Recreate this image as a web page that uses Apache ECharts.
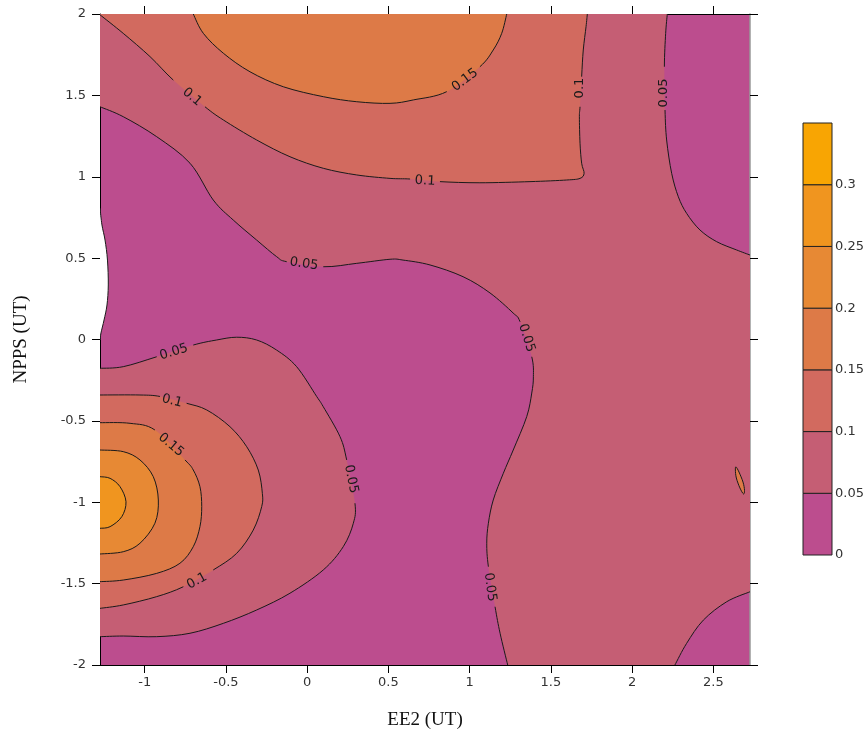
<!DOCTYPE html>
<html><head><meta charset="utf-8">
<script src="https://cdn.jsdelivr.net/npm/echarts@6/dist/echarts.min.js"></script>
<style>html,body{margin:0;padding:0;background:#fff}#c{width:867px;height:736px}</style>
</head><body><div id="c"></div>
<script>
// ---------- data ----------
const xRange = [-1.275, 2.725];
const yRange = [-2, 2];
const xTicks = [-1, -0.5, 0, 0.5, 1, 1.5, 2, 2.5];
const yTicks = [-2, -1.5, -1, -0.5, 0, 0.5, 1, 1.5, 2];
const levels = [0, 0.05, 0.1, 0.15, 0.2, 0.25, 0.3, 0.35];
const levelLabels = [0, 0.05, 0.1, 0.15, 0.2, 0.25, 0.3];

// contour lines in data units (null = gap where a label sits)
const c005Upper = [
  [-1.275, 1.430], [-1.132, 1.369], [-0.926, 1.246], [-0.721, 1.083], [-0.578, 0.857], [-0.455, 0.734],
  [-0.311, 0.611], [-0.188, 0.509], [-0.126, 0.478], null,
  [0.099, 0.447], [0.305, 0.468], [0.510, 0.493], [0.590, 0.488], [0.756, 0.458], [0.959, 0.386],
  [1.125, 0.286], [1.267, 0.163], [1.310, 0.109], null,
  [1.382, -0.106], [1.392, -0.229], [1.382, -0.329], [1.351, -0.474], [1.268, -0.679], [1.207, -0.822],
  [1.145, -0.986], [1.115, -1.129], [1.105, -1.252], [1.115, -1.396], null,
  [1.156, -1.642], [1.187, -1.805], [1.234, -2.0]
];
const c010Top = [
  [-1.275, 1.995], [-1.132, 1.881], [-0.967, 1.738], [-0.824, 1.594], null,
  [-0.629, 1.430], [-0.516, 1.349], [-0.311, 1.226], [-0.106, 1.123], [0.099, 1.052], [0.305, 1.011],
  [0.510, 0.990], [0.633, 0.986], null,
  [0.817, 0.970], [1.063, 0.963], [1.371, 0.970], [1.597, 0.980], [1.679, 0.990], [1.704, 1.021],
  [1.689, 1.083], [1.679, 1.206], [1.675, 1.369], [1.679, 1.430], null,
  [1.689, 1.615], [1.699, 1.779], [1.716, 1.922], [1.724, 2.0]
];
const c015Top = [
  [-0.701, 2.0], [-0.639, 1.881], [-0.516, 1.759], [-0.352, 1.645], [-0.147, 1.553], [0.099, 1.492],
  [0.305, 1.461], [0.510, 1.451], [0.653, 1.472], [0.859, 1.523], null,
  [1.063, 1.676], [1.145, 1.779], [1.197, 1.881], [1.228, 2.0]
];
const c005Right = [
  [2.216, 2.0], [2.206, 1.881], [2.198, 1.676], null,
  [2.202, 1.410], [2.212, 1.226], [2.243, 1.021], [2.284, 0.877], [2.335, 0.775], [2.417, 0.673],
  [2.520, 0.601], [2.643, 0.550], [2.725, 0.519]
];
const c005BottomRight = [[2.263, -2.0], [2.335, -1.867], [2.438, -1.724], [2.582, -1.611], [2.725, -1.550]];
const c005LowLeft = [
  [-1.275, -0.177], [-1.132, -0.167], [-0.926, -0.106], null,
  [-0.701, -0.034], [-0.557, -0.003], [-0.434, 0.014], [-0.311, -0.003], [-0.188, -0.065], [-0.065, -0.167],
  [0.059, -0.351], [0.099, -0.413], [0.202, -0.597], [0.243, -0.740], null,
  [0.294, -1.006], [0.284, -1.129], [0.222, -1.273], [0.099, -1.416], [-0.106, -1.559], [-0.311, -1.662],
  [-0.516, -1.744], [-0.721, -1.805], [-0.926, -1.826], [-1.132, -1.822], [-1.275, -1.826]
];
const c010LowLeft = [
  [-1.275, -0.341], [-1.029, -0.341], [-0.906, -0.350], null,
  [-0.742, -0.392], [-0.618, -0.433], [-0.475, -0.536], [-0.372, -0.659], [-0.301, -0.802], [-0.276, -0.945],
  [-0.280, -1.027], [-0.332, -1.171], [-0.434, -1.314], [-0.578, -1.416], null,
  [-0.762, -1.519], [-0.926, -1.580], [-1.132, -1.631], [-1.275, -1.652]
];
const c015LowLeft = [
  [-1.275, -0.511], [-1.090, -0.515], [-0.937, -0.556], null,
  [-0.752, -0.740], [-0.701, -0.802], [-0.660, -0.904], [-0.649, -1.027], [-0.660, -1.150], [-0.701, -1.273],
  [-0.783, -1.375], [-0.926, -1.437], [-1.132, -1.478], [-1.275, -1.488]
];
const c020LowLeft = [
  [-1.275, -0.679], [-1.132, -0.689], [-1.029, -0.740], [-0.947, -0.843], [-0.916, -0.986],
  [-0.937, -1.129], [-1.029, -1.252], [-1.132, -1.304], [-1.275, -1.318]
];
const c025LowLeft = [
  [-1.275, -0.843], [-1.213, -0.853], [-1.152, -0.904], [-1.115, -0.997], [-1.141, -1.089],
  [-1.213, -1.150], [-1.275, -1.160]
];
const c000Left = [
  [-1.275, 0.808], [-1.263, 0.704], [-1.244, 0.611], [-1.229, 0.488], [-1.224, 0.335],
  [-1.232, 0.212], [-1.250, 0.120], [-1.269, 0.040], [-1.275, -0.003]
];
const islandRight = [
  [2.639, -0.783], [2.657, -0.814], [2.682, -0.876], [2.691, -0.925], [2.685, -0.949],
  [2.663, -0.912], [2.641, -0.851], [2.635, -0.802]
];
// contour labels: x, y, angle (deg), text
const contourLabels = [
  [-0.020, 0.464, -8, '0.05'],
  [1.350, 0.009, -72, '0.05'],
  [1.125, -1.521, -82, '0.05'],
  [-0.709, 1.490, -40, '0.1'],
  [0.725, 0.974, -3, '0.1'],
  [1.679, 1.545, 90, '0.1'],
  [0.971, 1.594, 37, '0.15'],
  [2.196, 1.515, 90, '0.05'],
  [-0.820, -0.077, 17, '0.05'],
  [0.270, -0.857, -79, '0.05'],
  [-0.832, -0.378, -14, '0.1'],
  [-0.678, -1.484, 29, '0.1'],
  [-0.838, -0.648, -40, '0.15']
];

// ---------- styles ----------
const bandColors = ['#bc4d8e', '#c55e74', '#d26a5f', '#dd7a47', '#e78934', '#f0951f', '#f8a503'];
const lineColor = '#1a1a1a';
const labelFont = '13px "DejaVu Sans", sans-serif';

// ---------- geometry helpers ----------
const clean = a => a.filter(p => p);
const cornerTL = [xRange[0], yRange[1]];
function gapIndices(a) {
  const g = new Set(); let n = 0;
  a.forEach(p => { if (p) n++; else g.add(n - 1); });
  return g;
}
const f = v => v.toFixed(2);
// Catmull-Rom pieces through pixel points P
function pieces(P, closed) {
  const n = P.length, out = [];
  const last = closed ? n : n - 1;
  for (let i = 0; i < last; i++) {
    const get = k => closed ? P[(k + n) % n] : P[Math.max(0, Math.min(n - 1, k))];
    const p0 = get(i - 1), p1 = get(i), p2 = get(i + 1), p3 = get(i + 2);
    const c1 = [p1[0] + (p2[0] - p0[0]) / 6, p1[1] + (p2[1] - p0[1]) / 6];
    const c2 = [p2[0] - (p3[0] - p1[0]) / 6, p2[1] - (p3[1] - p1[1]) / 6];
    out.push('C' + f(c1[0]) + ' ' + f(c1[1]) + ' ' + f(c2[0]) + ' ' + f(c2[1]) + ' ' + f(p2[0]) + ' ' + f(p2[1]));
  }
  return out;
}
// region = list of parts: {c: curve, rev} or {p: point}
const regions = [
  { band: 1, parts: [{ c: c005Upper }, { c: c005BottomRight }, { c: c005Right, rev: true }, { p: cornerTL }] },
  { band: 1, parts: [{ c: c005LowLeft }] },
  { band: 2, parts: [{ c: c010Top }, { p: cornerTL }] },
  { band: 3, parts: [{ c: c015Top }] },
  { band: 2, parts: [{ c: c010LowLeft }] },
  { band: 3, parts: [{ c: c015LowLeft }] },
  { band: 4, parts: [{ c: c020LowLeft }] },
  { band: 5, parts: [{ c: c025LowLeft }] },
  { band: 3, parts: [{ c: islandRight, closed: true }] },
  { band: -1, parts: [{ c: c000Left }] }
];
function regionPath(r, api) {
  let d = '';
  r.parts.forEach(part => {
    if (part.p) { const q = api.coord(part.p); d += (d ? 'L' : 'M') + f(q[0]) + ' ' + f(q[1]); return; }
    let P = clean(part.c).map(p => api.coord(p));
    if (part.rev) P = P.reverse();
    d += (d ? 'L' : 'M') + f(P[0][0]) + ' ' + f(P[0][1]);
    d += pieces(P, !!part.closed).join('');
  });
  return d + 'Z';
}
const contourLines = [c005Upper, c010Top, c015Top, c005Right, c005BottomRight, c005LowLeft, c010LowLeft,
  c015LowLeft, c020LowLeft, c025LowLeft, c000Left];
function linePath(a, api) {
  const P = clean(a).map(p => api.coord(p));
  const gaps = gapIndices(a);
  const pc = pieces(P, false);
  let d = 'M' + f(P[0][0]) + ' ' + f(P[0][1]);
  pc.forEach((s, i) => {
    if (gaps.has(i)) d += 'M' + f(P[i + 1][0]) + ' ' + f(P[i + 1][1]);
    else d += s;
  });
  return d;
}
function islandPath(api) {
  const P = islandRight.map(p => api.coord(p));
  return 'M' + f(P[0][0]) + ' ' + f(P[0][1]) + pieces(P, true).join('') + 'Z';
}

const chart = echarts.init(document.getElementById('c'));
const tickLabelStyle = { color: '#333', fontSize: 13, fontFamily: 'DejaVu Sans' };

chart.setOption({
  animation: false,
  backgroundColor: '#fff',
  grid: [
    { left: 100, top: 14, width: 650, height: 651, show: true, backgroundColor: bandColors[0], borderWidth: 0 },
    { left: 803, top: 123, width: 29, height: 432 }
  ],
  xAxis: [
    { gridIndex: 0, type: 'value', min: xRange[0], max: xRange[1], position: 'bottom',
      name: 'EE2 (UT)', nameLocation: 'middle', nameGap: 46,
      nameTextStyle: { fontFamily: 'Liberation Serif', fontSize: 19, color: '#111' },
      axisLine: { onZero: false, lineStyle: { color: '#000', width: 1 } },
      axisTick: { length: 8, lineStyle: { color: '#000' }, customValues: xTicks },
      axisLabel: Object.assign({ margin: 11, customValues: xTicks }, tickLabelStyle),
      splitLine: { show: false } },
    { gridIndex: 0, type: 'value', min: xRange[0], max: xRange[1], position: 'top',
      axisLine: { onZero: false, lineStyle: { color: '#000', width: 1 } },
      axisTick: { length: 8, lineStyle: { color: '#000' }, customValues: xTicks },
      axisLabel: { show: false }, splitLine: { show: false } },
    { gridIndex: 1, type: 'value', min: 0, max: 1, show: false }
  ],
  yAxis: [
    { gridIndex: 0, type: 'value', min: yRange[0], max: yRange[1], position: 'left',
      name: 'NPPS (UT)', nameLocation: 'middle', nameGap: 69, nameRotate: 90,
      nameTextStyle: { fontFamily: 'Liberation Serif', fontSize: 19, color: '#111' },
      axisLine: { show: true, onZero: false, lineStyle: { color: '#000', width: 1 } },
      axisTick: { show: true, length: 8, lineStyle: { color: '#000' }, customValues: yTicks },
      axisLabel: Object.assign({ margin: 14, customValues: yTicks }, tickLabelStyle),
      splitLine: { show: false } },
    { gridIndex: 0, type: 'value', min: yRange[0], max: yRange[1], position: 'right',
      axisLine: { show: true, onZero: false, lineStyle: { color: '#999', width: 1.5 } },
      axisTick: { show: true, length: 8, lineStyle: { color: '#000' }, customValues: yTicks },
      axisLabel: { show: false }, splitLine: { show: false } },
    { gridIndex: 1, type: 'value', min: 0, max: 0.35, position: 'right',
      axisLine: { show: false }, axisTick: { show: false }, splitLine: { show: false },
      axisLabel: Object.assign({ margin: 3, customValues: levelLabels }, tickLabelStyle) }
  ],
  series: [
    { type: 'custom', xAxisIndex: 0, yAxisIndex: 0, clip: true, silent: true, z: 1,
      data: regions.map((r, i) => i),
      renderItem: (params, api) => {
        const r = regions[params.dataIndex];
        return { type: 'path', shape: { pathData: regionPath(r, api) },
          style: { fill: r.band < 0 ? '#ffffff' : bandColors[r.band], stroke: null } };
      } },
    { type: 'custom', xAxisIndex: 0, yAxisIndex: 0, clip: true, silent: true, z: 2,
      data: contourLines.map((s, i) => i).concat([contourLines.length]),
      renderItem: (params, api) => {
        const i = params.dataIndex;
        const d = i < contourLines.length ? linePath(contourLines[i], api) : islandPath(api);
        return { type: 'path', shape: { pathData: d },
          style: { stroke: lineColor, lineWidth: 1, fill: null } };
      } },
    { type: 'custom', xAxisIndex: 0, yAxisIndex: 0, clip: false, silent: true, z: 3,
      data: contourLabels.map((l, i) => i),
      renderItem: (params, api) => {
        const l = contourLabels[params.dataIndex];
        const c = api.coord([l[0], l[1]]);
        return { type: 'text', x: c[0], y: c[1], rotation: l[2] * Math.PI / 180,
          style: { text: l[3], font: labelFont, fill: '#1a1a1a', align: 'center', verticalAlign: 'middle' } };
      } },
    { type: 'custom', xAxisIndex: 2, yAxisIndex: 2, silent: true,
      data: bandColors.map((c, i) => i),
      renderItem: (params, api) => {
        const i = params.dataIndex;
        const p0 = api.coord([0, levels[i + 1]]);
        const p1 = api.coord([1, levels[i]]);
        return { type: 'rect', shape: { x: p0[0], y: p0[1], width: p1[0] - p0[0], height: p1[1] - p0[1] },
          style: { fill: bandColors[i], stroke: '#222', lineWidth: 1 } };
      } }
  ]
});
</script>
</body></html>
